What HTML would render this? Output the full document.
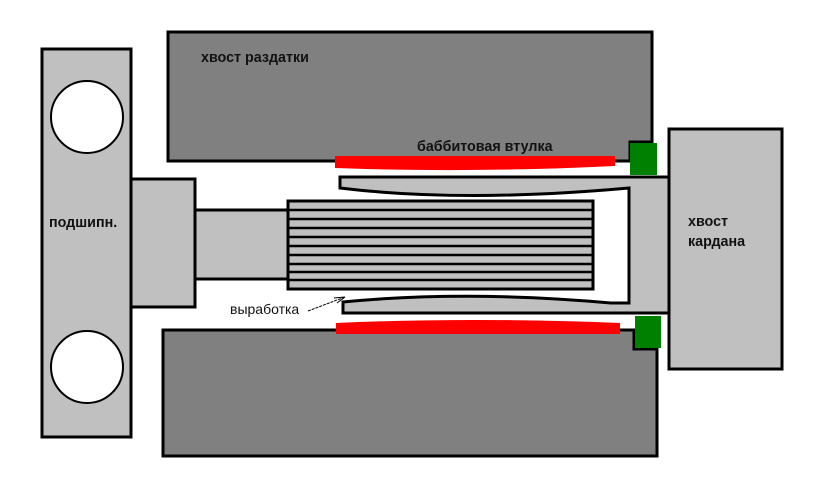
<!DOCTYPE html>
<html><head><meta charset="utf-8"><style>
html,body{margin:0;padding:0;background:#fff;}
svg{display:block;}
text{font-family:"Liberation Sans",sans-serif;}
</style></head><body>
<svg width="820" height="489" viewBox="0 0 820 489" xmlns="http://www.w3.org/2000/svg">
<rect width="820" height="489" fill="#fff"/>
<path d="M168,32 H652 V142 H630 V161 H168 Z" fill="#808080" stroke="#000" stroke-width="3"/>
<path d="M163,330 H634 V349 H657 V456 H163 Z" fill="#808080" stroke="#000" stroke-width="3"/>
<rect x="42" y="49" width="89" height="388" fill="#c0c0c0" stroke="#000" stroke-width="3"/>
<circle cx="87" cy="117" r="36" fill="#fff" stroke="#000" stroke-width="2"/>
<circle cx="87" cy="367" r="36" fill="#fff" stroke="#000" stroke-width="2"/>
<rect x="131" y="179" width="64" height="128" fill="#c0c0c0" stroke="#000" stroke-width="3"/>
<rect x="195" y="210" width="95" height="69" fill="#c0c0c0" stroke="#000" stroke-width="3"/>
<rect x="288" y="201" width="305" height="88" fill="#c0c0c0" stroke="#000" stroke-width="3"/>
<g stroke="#000" stroke-width="2.5">
<line x1="288" y1="210" x2="593" y2="210"/><line x1="288" y1="219" x2="593" y2="219"/>
<line x1="288" y1="228" x2="593" y2="228"/><line x1="288" y1="237" x2="593" y2="237"/>
<line x1="288" y1="246" x2="593" y2="246"/><line x1="288" y1="255" x2="593" y2="255"/>
<line x1="288" y1="264" x2="593" y2="264"/><line x1="288" y1="272" x2="593" y2="272"/>
<line x1="288" y1="280" x2="593" y2="280"/>
</g>
<path d="M340,177 H670 V313 H343 V302 Q465,290 611,303 H629 V188 Q462,203 340,188 Z" fill="#c0c0c0" stroke="#000" stroke-width="3"/>
<rect x="669" y="129" width="113" height="240" fill="#c0c0c0" stroke="#000" stroke-width="3"/>
<path d="M335,156 H615 V166 Q470,173 335,168 Z" fill="#f00"/>
<path d="M336,323 Q470,317 620,323 V334 H336 Z" fill="#f00"/>
<rect x="630" y="143" width="27" height="32" fill="#008000"/>
<rect x="635" y="316" width="26" height="32" fill="#008000"/>
<line x1="308" y1="311" x2="345" y2="297" stroke="#000" stroke-width="1" stroke-dasharray="3,1"/>
<path d="M345,297 L334,298 M345,297 L337,303" stroke="#000" stroke-width="1"/>
<text x="201" y="62" font-size="14.3" font-weight="bold" fill="#111">хвост раздатки</text>
<text x="417" y="151" font-size="14.3" font-weight="bold" fill="#111">баббитовая втулка</text>
<text x="49" y="227" font-size="14.3" font-weight="bold" fill="#111">подшипн.</text>
<text x="688" y="226" font-size="14.3" font-weight="bold" fill="#111">хвост</text>
<text x="688" y="246" font-size="14.3" font-weight="bold" fill="#111">кардана</text>
<text x="230" y="314" font-size="14" fill="#111">выработка</text>
</svg>
</body></html>
